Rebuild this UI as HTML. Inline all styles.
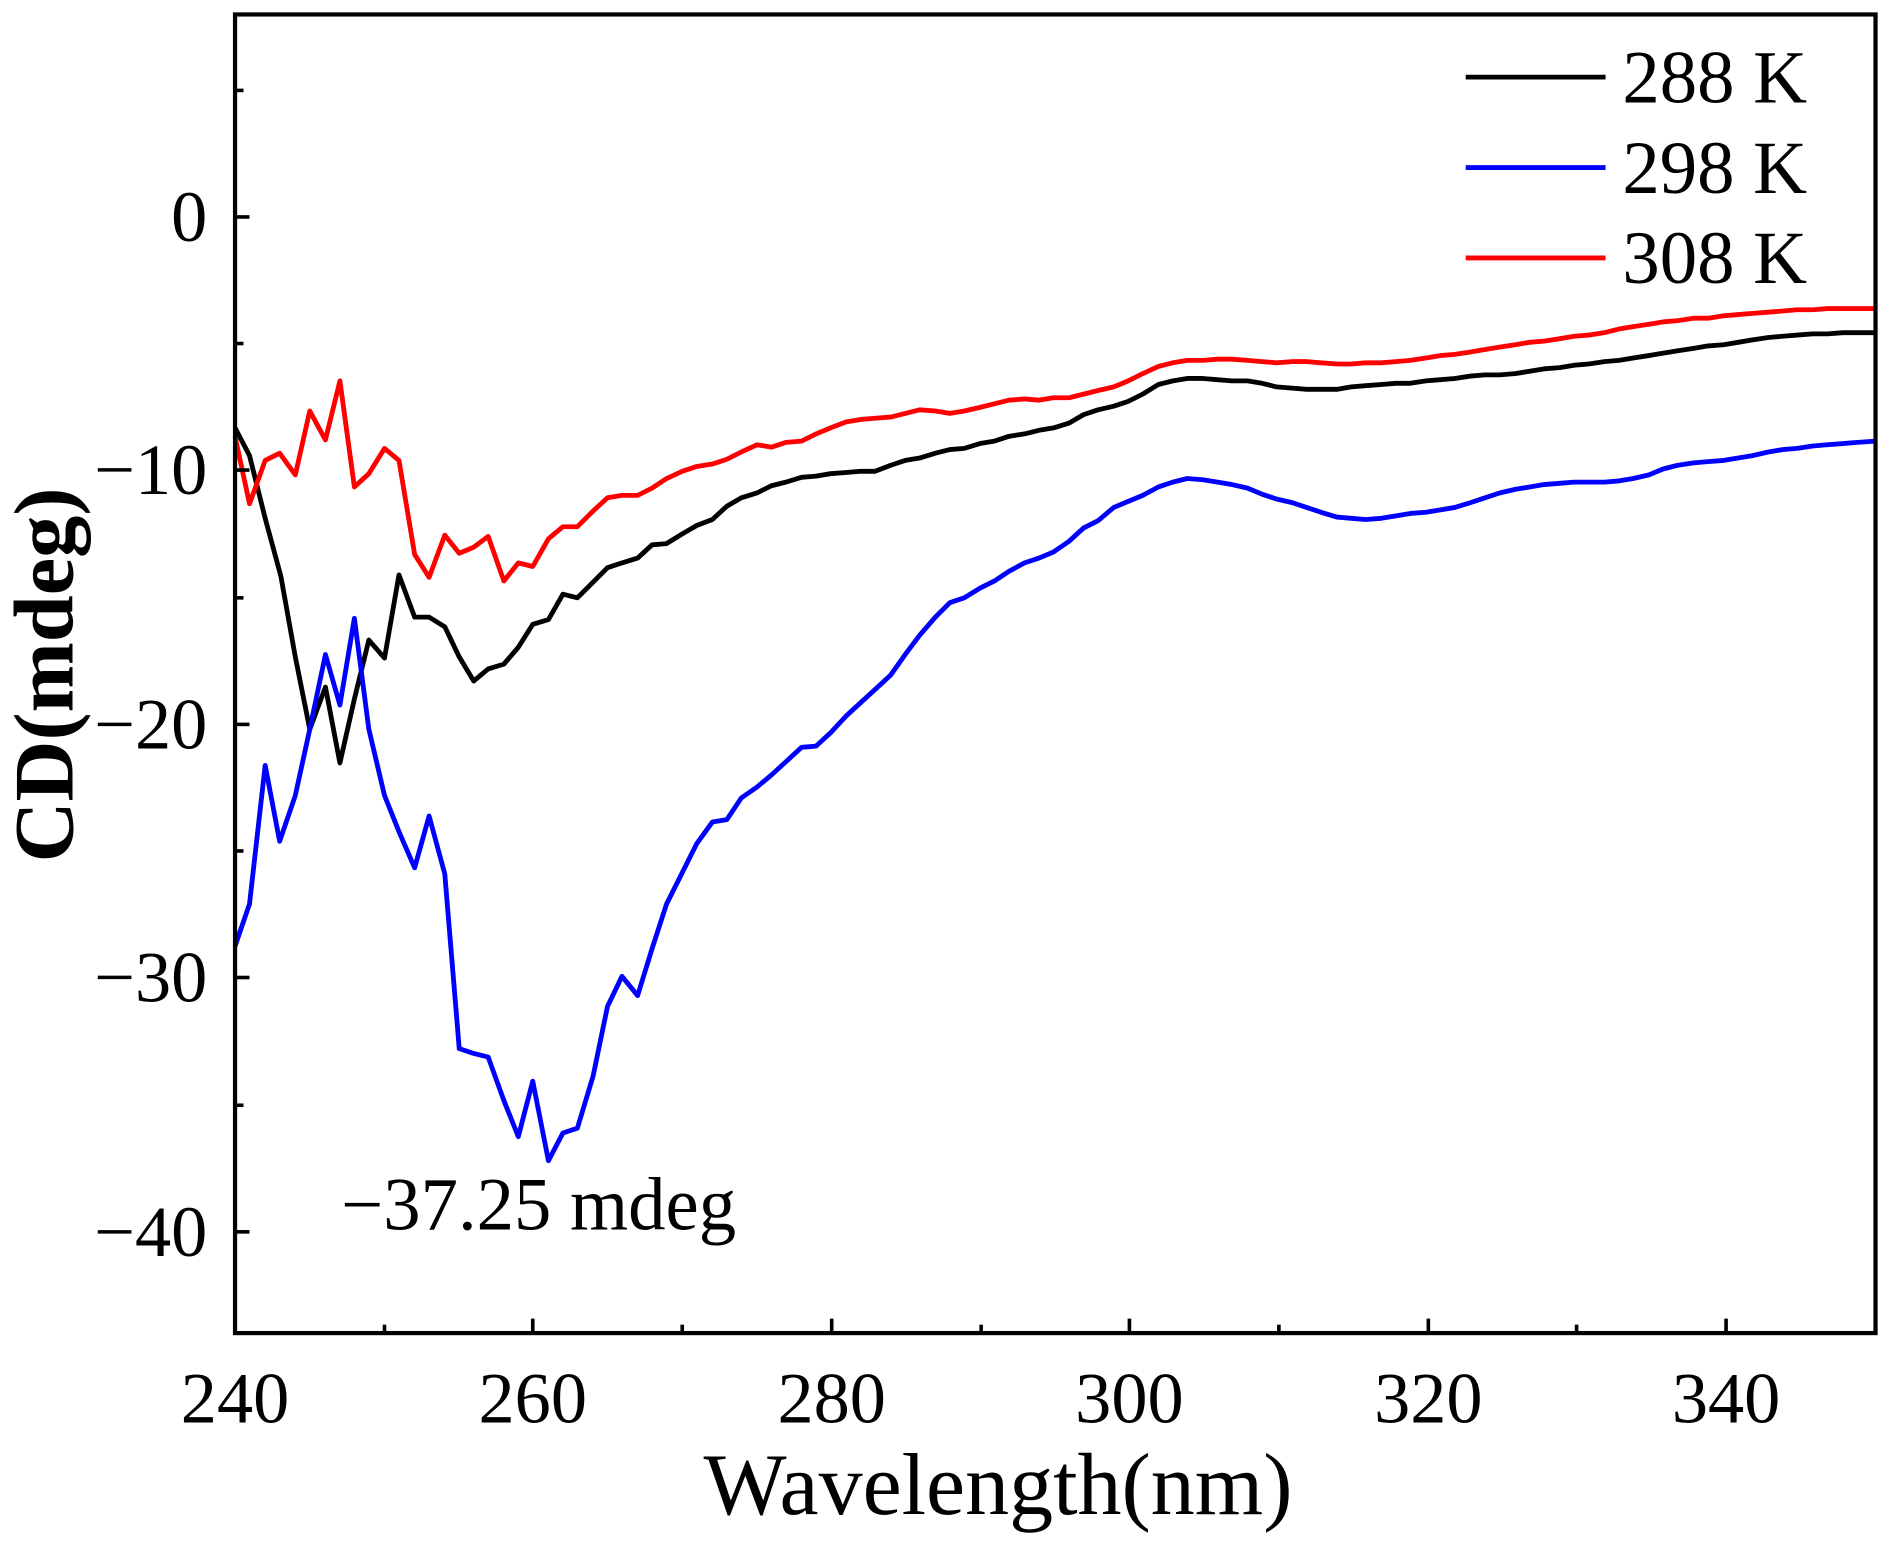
<!DOCTYPE html>
<html><head><meta charset="utf-8"><style>html,body{margin:0;padding:0;background:#fff}svg{display:block}</style></head>
<body>
<svg width="1890" height="1541" viewBox="0 0 1568 1278.5" preserveAspectRatio="none" xmlns="http://www.w3.org/2000/svg" font-family="Liberation Serif, serif">
<rect width="1568" height="1279" fill="#fff"/>
<g fill="none" stroke-width="4" stroke-linejoin="round">
<polyline stroke="#000" points="195,355 207,378 220,430 233,478 245,545 257,605 270,570 282,633 294,580 306,531 319,546 331,477 344,512 356,512 369,520 381,545 393,565 405,555 418,551 430,537 442,518 455,514 467,493 479,496 492,483 504,471 516,467 529,463 541,452 553,451 566,443 578,436 591,431 603,420 615,413 628,409 640,403 652,400 665,396 677,395 689,393 702,392 714,391 726,391 739,386 751,382 763,380 776,376 788,373 800,372 813,368 825,366 837,362 850,360 862,357 874,355 887,351 899,344 911,340 924,337 936,333 948,327 961,319 973,316 985,314 998,314 1010,315 1022,316 1035,316 1047,318 1059,321 1072,322 1084,323 1096,323 1109,323 1121,321 1133,320 1146,319 1158,318 1170,318 1183,316 1195,315 1207,314 1220,312 1232,311 1244,311 1257,310 1269,308 1281,306 1294,305 1306,303 1318,302 1331,300 1343,299 1355,297 1368,295 1380,293 1392,291 1405,289 1417,287 1430,286 1442,284 1454,282 1467,280 1479,279 1491,278 1504,277 1516,277 1529,276 1541,276 1556,276"/>
<polyline stroke="#0000ff" points="195,785 207,750 220,635 232,698 245,660 257,605 270,543 282,585 294,513 306,605 319,660 331,690 344,720 356,677 369,725 381,870 393,874 405,877 418,913 430,943 442,897 455,963 467,940 479,936 492,893 504,835 516,810 529,826 541,787 553,750 566,724 578,700 591,682 603,680 615,662 628,653 640,643 652,632 665,620 677,619 689,608 702,594 714,583 726,572 739,560 751,543 763,527 776,512 788,500 800,496 813,488 825,482 837,474 850,467 862,463 874,458 887,449 899,438 911,432 924,421 936,416 948,411 961,404 973,400 985,397 998,398 1010,400 1022,402 1035,405 1047,410 1059,414 1072,417 1084,421 1096,425 1109,429 1121,430 1133,431 1146,430 1158,428 1170,426 1183,425 1195,423 1207,421 1220,417 1232,413 1244,409 1257,406 1269,404 1281,402 1294,401 1306,400 1318,400 1331,400 1343,399 1355,397 1368,394 1380,389 1392,386 1405,384 1417,383 1430,382 1442,380 1454,378 1467,375 1479,373 1491,372 1504,370 1516,369 1529,368 1541,367 1556,366"/>
<polyline stroke="#ff0000" points="195,362 207,418 220,382 232,376 245,394 257,341 270,365 282,316 294,404 306,393 319,372 331,382 344,460 356,479 369,444 381,459 393,454 405,445 418,482 430,467 442,470 455,447 467,437 479,437 492,424 504,413 516,411 529,411 541,405 553,397 566,391 578,387 591,385 603,381 615,375 628,369 640,371 652,367 665,366 677,360 689,355 702,350 714,348 726,347 739,346 751,343 763,340 776,341 788,343 800,341 813,338 825,335 837,332 850,331 862,332 874,330 887,330 899,327 911,324 924,321 936,316 948,310 961,304 973,301 985,299 998,299 1010,298 1022,298 1035,299 1047,300 1059,301 1072,300 1084,300 1096,301 1109,302 1121,302 1133,301 1146,301 1158,300 1170,299 1183,297 1195,295 1207,294 1220,292 1232,290 1244,288 1257,286 1269,284 1281,283 1294,281 1306,279 1318,278 1331,276 1343,273 1355,271 1368,269 1380,267 1392,266 1405,264 1417,264 1430,262 1442,261 1454,260 1467,259 1479,258 1491,257 1504,257 1516,256 1529,256 1541,256 1556,256"/>
</g>
<rect x="195" y="12" width="1361" height="1094" fill="none" stroke="#000" stroke-width="3.5"/>
<g stroke="#000" stroke-width="3">
<line x1="195" y1="1106" x2="195" y2="1094"/><line x1="442" y1="1106" x2="442" y2="1094"/><line x1="690" y1="1106" x2="690" y2="1094"/><line x1="937" y1="1106" x2="937" y2="1094"/><line x1="1185" y1="1106" x2="1185" y2="1094"/><line x1="1432" y1="1106" x2="1432" y2="1094"/>
<line x1="319" y1="1106" x2="319" y2="1099"/><line x1="566" y1="1106" x2="566" y2="1099"/><line x1="814" y1="1106" x2="814" y2="1099"/><line x1="1061" y1="1106" x2="1061" y2="1099"/><line x1="1308" y1="1106" x2="1308" y2="1099"/>
<line x1="195" y1="180" x2="207" y2="180"/><line x1="195" y1="390" x2="207" y2="390"/><line x1="195" y1="601" x2="207" y2="601"/><line x1="195" y1="811" x2="207" y2="811"/><line x1="195" y1="1022" x2="207" y2="1022"/>
<line x1="195" y1="75" x2="202" y2="75"/><line x1="195" y1="285" x2="202" y2="285"/><line x1="195" y1="496" x2="202" y2="496"/><line x1="195" y1="706" x2="202" y2="706"/><line x1="195" y1="917" x2="202" y2="917"/>
</g>
<g font-size="60" text-anchor="middle" fill="#000">
<text x="195" y="1180">240</text><text x="442" y="1180">260</text><text x="690" y="1180">280</text><text x="937" y="1180">300</text><text x="1185" y="1180">320</text><text x="1432" y="1180">340</text>
</g>
<g font-size="60" text-anchor="end" fill="#000">
<text x="172" y="200">0</text><text x="172" y="410">−10</text><text x="172" y="621">−20</text><text x="172" y="831">−30</text><text x="172" y="1042">−40</text>
</g>
<text x="828" y="1256" font-size="73" text-anchor="middle">Wavelength(nm)</text>
<text transform="translate(60,560) rotate(-90)" font-size="70" font-weight="bold" text-anchor="middle">CD(mdeg)</text>
<text x="283" y="1020" font-size="62">−37.25 mdeg</text>
<g stroke-width="4"><line x1="1216" y1="64" x2="1332" y2="64" stroke="#000"/><line x1="1216" y1="139" x2="1332" y2="139" stroke="#0000ff"/><line x1="1216" y1="214" x2="1332" y2="214" stroke="#ff0000"/></g>
<g font-size="62"><text x="1346" y="85">288 K</text><text x="1346" y="160">298 K</text><text x="1346" y="235">308 K</text></g>
</svg>
</body></html>
